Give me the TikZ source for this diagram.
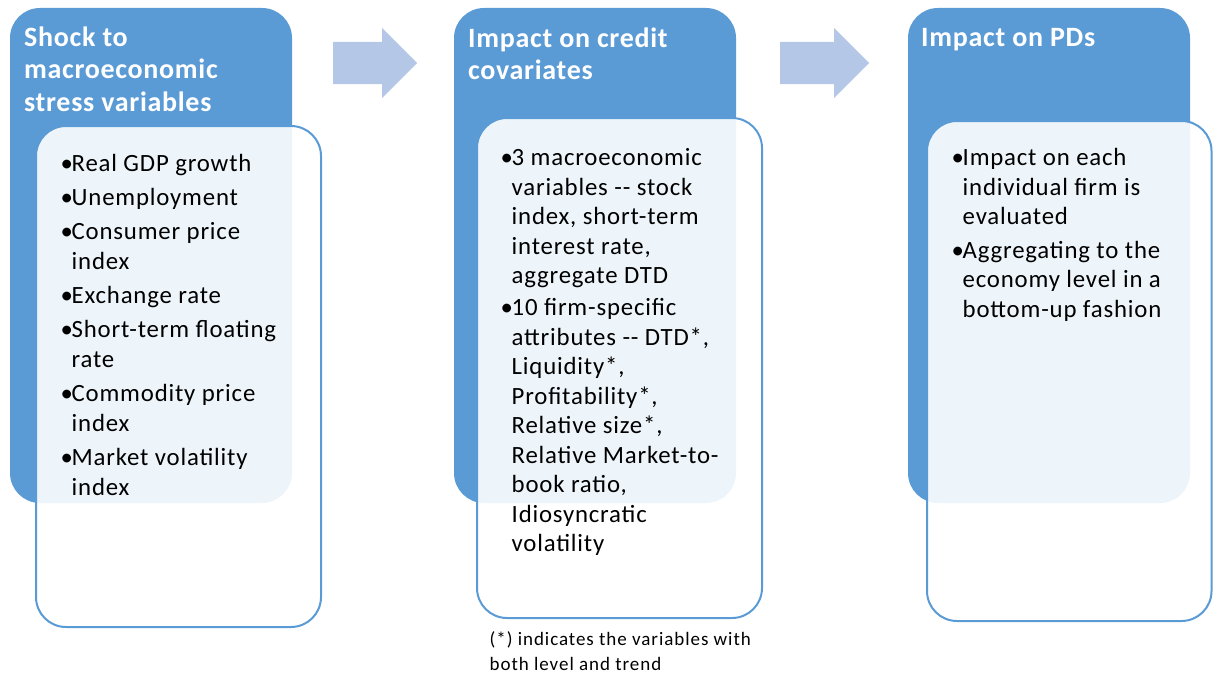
\documentclass[tikz,border=0pt]{standalone}
\usepackage{fontspec}
\setmainfont{Carlito}
\newfontfamily\bodyfont[LetterSpace=3.3]{Carlito}
\newfontfamily\headfont[LetterSpace=2.5]{Carlito}
\newfontfamily\notefont[LetterSpace=5]{Carlito}
\definecolor{boxblue}{HTML}{5B9BD5}
\definecolor{arrowblue}{HTML}{B4C7E7}
\newcommand{\bul}{\makebox[11pt][l]{•}}
\newcommand{\ind}{\hspace*{11pt}}
\begin{document}
\begin{tikzpicture}[x=1pt,y=-1pt,
  backbox/.style={fill=boxblue, rounded corners=30pt, anchor=north west, inner sep=0pt, outer sep=0pt},
  frontbox/.style={fill=white, fill opacity=0.9, draw=boxblue, line width=2pt, rounded corners=30pt, anchor=north west, inner sep=0pt, outer sep=0pt},
  headtext/.style={anchor=base west, inner sep=0pt, text=white, font=\headfont\fontsize{28}{32}\selectfont\bfseries},
  bodytext/.style={anchor=base west, inner sep=0pt, text=black, font=\bodyfont\fontsize{24.8}{29.5}\selectfont},
  notetext/.style={anchor=base west, inner sep=0pt, text=black, font=\notefont\fontsize{19}{25}\selectfont},
  blockarrow/.style={fill=arrowblue, draw=none}]
\useasboundingbox (0,0) rectangle (1214,677);

% back boxes
\node[backbox, minimum width=282pt, minimum height=495pt] (b1) at (10,8) {};
\node[backbox, minimum width=282pt, minimum height=495pt] (b2) at (454,8) {};
\node[backbox, minimum width=282pt, minimum height=495pt] (b3) at (908,8) {};

% front boxes
\node[frontbox, minimum width=285pt, minimum height=501pt] (f1) at (36,126) {};
\node[frontbox, minimum width=285pt, minimum height=500pt] (f2) at (477,118) {};
\node[frontbox, minimum width=284.5pt, minimum height=500pt] (f3) at (927,121) {};

% block arrows
\fill[blockarrow] (333,42) -- (382,42) -- (382,28) -- (417,63) -- (382,98) -- (382,84) -- (333,84) -- cycle;
\fill[blockarrow] (780,42) -- (834,42) -- (834,28) -- (869,63) -- (834,98) -- (834,84) -- (780,84) -- cycle;

% headers
\node[headtext] (h1) at (24,47) {\begin{tabular}[t]{@{}l@{}}Shock to\\macroeconomic\\stress variables\end{tabular}};
\node[headtext] (h2) at (468,47.5) {\begin{tabular}[t]{@{}l@{}}Impact on credit\\covariates\end{tabular}};
\node[headtext] (h3) at (921,47) {\begin{tabular}[t]{@{}l@{}}Impact on PDs\end{tabular}};

% bodies
\node[bodytext, font=\bodyfont\fontsize{24.8}{30}\selectfont] (t1) at (60.5,171.5) {\begin{tabular}[t]{@{}l@{}}
\bul Real GDP growth\\[4pt]
\bul Unemployment\\[4pt]
\bul Consumer price\\
\ind index\\[4pt]
\bul Exchange rate\\[4pt]
\bul Short-term floating\\
\ind rate\\[4pt]
\bul Commodity price\\
\ind index\\[4pt]
\bul Market volatility\\
\ind index
\end{tabular}};

\node[bodytext] (t2) at (500.5,165.5) {\begin{tabular}[t]{@{}l@{}}
\bul 3 macroeconomic\\
\ind variables -{}- stock\\
\ind index, short-term\\
\ind interest rate,\\
\ind aggregate DTD\\[2.5pt]
\bul 10 firm-specific\\
\ind attributes -{}- DTD*,\\
\ind Liquidity*,\\
\ind Profitability*,\\
\ind Relative size*,\\
\ind Relative Market-to-\\
\ind book ratio,\\
\ind Idiosyncratic\\
\ind volatility
\end{tabular}};

\node[bodytext] (t3) at (951.5,165.5) {\begin{tabular}[t]{@{}l@{}}
\bul Impact on each\\
\ind individual firm is\\
\ind evaluated\\[4pt]
\bul Aggregating to the\\
\ind economy level in a\\
\ind bottom-up fashion
\end{tabular}};

% footnote
\node[notetext] (note) at (489.5,645) {\begin{tabular}[t]{@{}l@{}}(*) indicates the variables with\\both level and trend\end{tabular}};
\end{tikzpicture}
\end{document}
